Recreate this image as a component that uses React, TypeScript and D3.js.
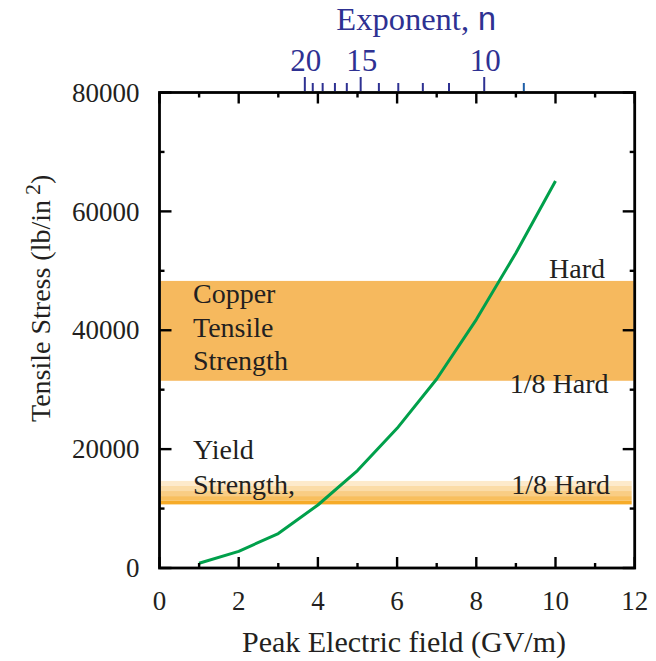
import { line, range, scaleLinear } from "d3";

const WIDTH = 656;
const HEIGHT = 661;
const MARGIN = { left: 159.5, right: 21.3, top: 92.5, bottom: 93 };

// Field strength (GV/m) vs tensile stress (lb/in^2)
const fieldGV = [1, 2, 3, 4, 5, 6, 7, 8, 9, 10];
const stressPsi = [800, 2800, 5800, 10600, 16400, 23500, 31800, 41800, 53000, 65100];

// top axis: exponent n, placed at the field value it sits over
const exponentValues = [20, 19, 18, 17, 16, 15, 14, 13, 12, 11, 10, 9];
const exponentField = [3.67, 3.87, 4.12, 4.43, 4.73, 5.08, 5.54, 6.03, 6.65, 7.31, 8.2, 9.2];
const exponentLabels = [20, 15, 10];

const copperBand = [31500, 48300];
const yieldStripes = [10700, 11300, 12100, 12950, 13800, 14650];
const yieldColors = ["#f6ab28", "#f8bf5e", "#f9cd84", "#fbdca7", "#fdeacb"];

const copperLabel = ["Copper", "Tensile", "Strength"];
const yieldLabel = ["Yield", "Strength,"];

const SERIF = "'Liberation Serif', 'Times New Roman', serif";
const TEXT = "#231f20";
const BLUE = "#2e3192";

export default function App() {
  const x = scaleLinear()
    .domain([0, 12])
    .range([MARGIN.left, WIDTH - MARGIN.right]);
  const y = scaleLinear()
    .domain([0, 80000])
    .range([HEIGHT - MARGIN.bottom, MARGIN.top]);

  const [x0, x1] = x.range();
  const [y0, y1] = y.range();

  const path = line<number>()
    .x((_, i) => x(fieldGV[i]))
    .y((d) => y(d))(stressPsi) ?? "";

  const xTicks = range(0, 13, 1);
  const yTicks = range(0, 80001, 10000);

  return (
    <svg
      width={WIDTH}
      height={HEIGHT}
      style={{ position: "absolute", left: 0, top: 0, background: "#fff" }}
      fontFamily={SERIF}
    >
      {/* bands */}
      <rect
        x={x0 + 1}
        y={y(copperBand[1])}
        width={x1 - x0 - 2}
        height={y(copperBand[0]) - y(copperBand[1])}
        fill="#f6b95e"
      />
      {yieldColors.map((c, i) => (
        <rect
          key={c}
          x={x0 + 1}
          y={y(yieldStripes[i + 1])}
          width={x1 - x0 - 4}
          height={y(yieldStripes[i]) - y(yieldStripes[i + 1])}
          fill={c}
        />
      ))}

      {/* labels in plot */}
      <g fontSize={28} fill={TEXT}>
        {copperLabel.map((t, i) => (
          <text key={t} x={193} y={303 + i * 33.5}>
            {t}
          </text>
        ))}
        {yieldLabel.map((t, i) => (
          <text key={t} x={193} y={459 + i * 34.5}>
            {t}
          </text>
        ))}
        <text x={605} y={278} textAnchor="end">Hard</text>
        <text x={608.5} y={392.5} textAnchor="end">1/8 Hard</text>
        <text x={610} y={493.5} textAnchor="end">1/8 Hard</text>
      </g>

      {/* curve */}
      <path d={path} fill="none" stroke="#00a04b" strokeWidth={3} strokeLinejoin="round" />

      {/* frame ticks */}
      <g stroke="#000" strokeWidth={2.4}>
        {xTicks.map((t) => {
          const len = t % 2 === 0 ? 11 : 5;
          return (
            <g key={`x${t}`}>
              <line x1={x(t)} x2={x(t)} y1={y0} y2={y0 - len} />
              <line x1={x(t)} x2={x(t)} y1={y1} y2={y1 + len} />
            </g>
          );
        })}
        {yTicks.map((t) => {
          const len = t % 20000 === 0 ? 12 : 5;
          return (
            <g key={`y${t}`}>
              <line x1={x0} x2={x0 + len} y1={y(t)} y2={y(t)} />
              <line x1={x1} x2={x1 - len} y1={y(t)} y2={y(t)} />
            </g>
          );
        })}
      </g>
      <rect x={x0} y={y1} width={x1 - x0} height={y0 - y1} fill="none" stroke="#000" strokeWidth={2.8} />

      {/* top exponent axis */}
      {exponentValues.map((n, i) => {
        const major = exponentLabels.includes(n);
        const xp = x(exponentField[i]);
        return (
          <line
            key={`n${n}`}
            x1={xp}
            x2={xp}
            y1={y1 - 1.5}
            y2={y1 - 1.5 - (major ? 14 : 8)}
            stroke={n === 9 ? "#1f5fa8" : BLUE}
            strokeWidth={2}
          />
        );
      })}
      <g fill={BLUE} fontSize={31} textAnchor="middle">
        {exponentLabels.map((n) => (
          <text key={`nl${n}`} x={x(exponentField[exponentValues.indexOf(n)]) + 1} y={70.5}>
            {n}
          </text>
        ))}
      </g>
      <text x={416.5} y={30} fill={BLUE} fontSize={32.5} textAnchor="middle">
        Exponent,{" "}
        <tspan fontFamily="'Liberation Mono', 'Courier New', monospace">n</tspan>
      </text>

      {/* tick labels */}
      <g fontSize={27} fill={TEXT}>
        {range(0, 13, 2).map((t) => (
          <text key={`xl${t}`} x={x(t)} y={609.5} textAnchor="middle">
            {t}
          </text>
        ))}
        {range(0, 80001, 20000).map((t) => (
          <text key={`yl${t}`} x={139.5} y={y(t)} dy="0.34em" textAnchor="end">
            {t}
          </text>
        ))}
      </g>

      {/* axis titles */}
      <text x={404} y={651.5} fontSize={30} fill={TEXT} textAnchor="middle">
        Peak Electric field (GV/m)
      </text>
      <text
        transform="translate(50,422) rotate(-90)"
        fontSize={28}
        fill={TEXT}
        textAnchor="start"
      >
        Tensile Stress (lb/in
        <tspan dx={5} dy={-10} fontSize={22}>2</tspan>
        <tspan dy={10}>)</tspan>
      </text>
    </svg>
  );
}
